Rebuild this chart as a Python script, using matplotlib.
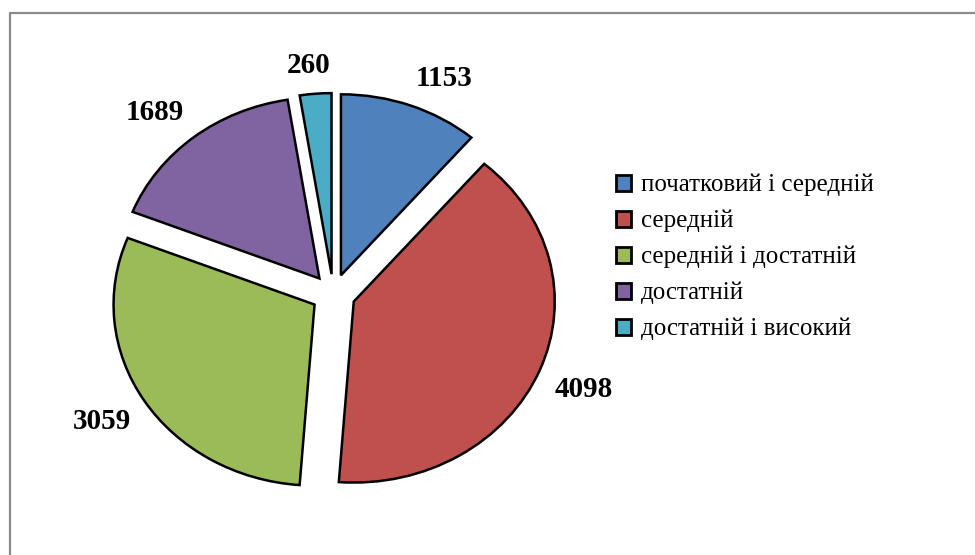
import numpy as np
import matplotlib
matplotlib.use("Agg")
import matplotlib.pyplot as plt
from matplotlib.lines import Line2D

categories = ["початковий і середній", "середній", "середній і достатній",
              "достатній", "достатній і високий"]
values = [1153, 4098, 3059, 1689, 260]
colors = ["#4F81BD", "#C0504D", "#9BBB59", "#8064A2", "#4BACC6"]

W, H = 975, 555
fig = plt.figure(figsize=(W / 100, H / 100), dpi=100)
fig.patch.set_facecolor("white")

# pie axes (stretched horizontally like the reference)
rx, ry = 201, 181
cx, cy = 333.3, 294
ax = fig.add_axes([(cx - 1.25 * rx) / W, (H - cy - 1.25 * ry) / H,
                   2.5 * rx / W, 2.5 * ry / H])
wedges, _ = ax.pie(values, colors=colors, startangle=90, counterclock=False,
                   explode=[0.11] * len(values),
                   wedgeprops=dict(edgecolor="black", linewidth=1.8))
ax.set_aspect("auto")
ax.set_xlim(-1.25, 1.25)
ax.set_ylim(-1.25, 1.25)
ax.axis("off")

serif = ["Liberation Serif", "DejaVu Serif"]
texts = []
for w, v in zip(wedges, values):
    t = ax.text(0, 0, str(v), ha="center", va="center", fontsize=21,
                fontweight="bold", family=serif, clip_on=False)
    texts.append(t)

fig.canvas.draw()
renderer = fig.canvas.get_renderer()
ux = ax.bbox.width / 2.5
uy = ax.bbox.height / 2.5
for w, t in zip(wedges, texts):
    th = np.deg2rad(0.5 * (w.theta1 + w.theta2))
    x0, y0 = w.center
    bb = t.get_window_extent(renderer)
    wd, hd = bb.width / ux, bb.height / uy
    r = 1.08
    c, s = np.cos(th), np.sin(th)
    px = x0 + r * c + 0.5 * wd * np.clip(3 * c, -1, 1)
    py = y0 + r * s + 0.5 * hd * np.clip(3 * s, -1, 1)
    t.set_position((px, py))

leg = fig.legend(wedges, categories, loc="upper left",
                 bbox_to_anchor=(606 / W, 1 - 164 / H), frameon=False,
                 prop=dict(family=serif, size=18),
                 handlelength=0.6, handleheight=0.6, handletextpad=0.4,
                 labelspacing=0.54, borderaxespad=0)
for h in leg.legend_handles:
    h.set_linewidth(2.0)

# chart frame (left and top edges visible)
fig.add_artist(Line2D([9.5 / W, 9.5 / W, 1], [0, 1 - 12.5 / H, 1 - 12.5 / H],
                      color="#8a8a8a", linewidth=1.6,
                      transform=fig.transFigure))

fig.savefig("out.png", dpi=100, facecolor="white")
